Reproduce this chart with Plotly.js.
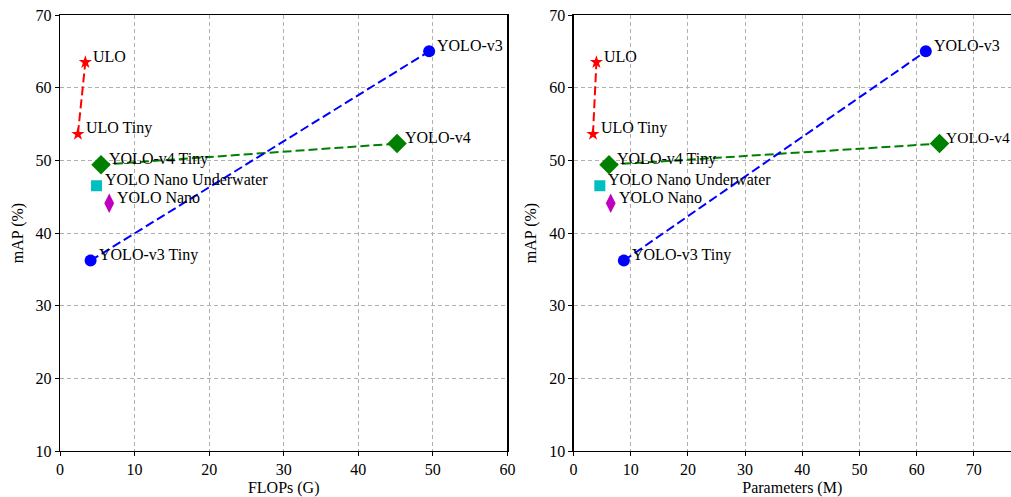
<!DOCTYPE html>
<html><head><meta charset="utf-8">
<script src="https://cdn.plot.ly/plotly-3.0.1.min.js"></script>
<style>html,body{margin:0;padding:0;background:#fff}</style>
</head><body><div id="chart" style="width:1011px;height:497px"></div>
<script>
const models = ["ULO Tiny","ULO","YOLO-v4 Tiny","YOLO-v4","YOLO-v3 Tiny","YOLO-v3","YOLO Nano Underwater","YOLO Nano"];
const mAP    = [53.6, 63.5, 49.4, 52.3, 36.2, 65.0, 46.5, 44.1];
const flops  = [2.4, 3.4, 5.5, 45.2, 4.1, 49.5, 4.9, 6.6];
const params = [3.4, 4.0, 6.2, 64.0, 8.8, 61.6, 4.6, 6.5];
const xTitles = ["FLOPs (G)", "Parameters (M)"];
const yTitle = "mAP (%)";

const groups = [
  {idx:[0,1], color:"#ff0000", symbol:"star", size:10, line:true},
  {idx:[2,3], color:"#008000", symbol:"diamond", size:15, line:true},
  {idx:[4,5], color:"#0000ff", symbol:"circle", size:12, line:true},
  {idx:[6], color:"#00bfbf", symbol:"square", size:11, line:false},
  {idx:[7], color:"#bf00bf", symbol:"diamond-tall", size:14, line:false}
];

const FONT = "'Liberation Serif', 'Times New Roman', serif";
const traces = [];
const annotations = [];
const xs = [flops, params];
xs.forEach((xv, k) => {
  const xa = k === 0 ? "x" : "x2";
  const ya = k === 0 ? "y" : "y2";
  groups.forEach(g => {
    traces.push({
      x: g.idx.map(i => xv[i]), y: g.idx.map(i => mAP[i]),
      xaxis: xa, yaxis: ya, type: "scatter",
      mode: g.line ? "lines+markers" : "markers",
      line: {color: g.color, width: 2, dash: "9px,4px"},
      marker: {color: g.color, symbol: g.symbol, size: g.size, line:{width:0}},
      showlegend: false, hoverinfo: "skip"
    });
  });
  models.forEach((m, i) => {
    // keep the far-right label inside the page edge
    const nearEdge = (k === 1 && xv[i] > 63);
    annotations.push({
      x: xv[i], y: mAP[i], xref: xa, yref: ya, text: m, showarrow: false,
      xanchor: "left", yanchor: "middle", xshift: nearEdge ? 5 : 7, yshift: 6, borderpad: 0,
      font: {family: FONT, size: nearEdge ? 15.5 : 16, color: "#000"}
    });
  });
});

const axisCommon = {
  showline: true, mirror: true, linecolor: "#000", linewidth: 1.2,
  ticks: "outside", ticklen: 4, tickcolor: "#000", tickwidth: 1,
  showgrid: true, gridcolor: "#b0b0b0", gridwidth: 1, griddash: "4px,3px",
  zeroline: false,
  tickfont: {family: FONT, size: 16, color: "#000"}
};
const titleFont = {family: FONT, size: 16, color: "#000"};

const layout = {
  width: 1011, height: 497,
  margin: {l: 60, r: 0, t: 15, b: 46},
  paper_bgcolor: "#fff", plot_bgcolor: "#fff",
  showlegend: false,
  xaxis: Object.assign({}, axisCommon, {domain: [0, 0.4705], range: [0, 60], dtick: 10, tick0: 0,
    title: {text: xTitles[0], font: titleFont, standoff: 4}, anchor: "y"}),
  yaxis: Object.assign({}, axisCommon, {domain: [0, 1], range: [10, 70], dtick: 10, tick0: 10,
    title: {text: yTitle, font: titleFont, standoff: 8}, anchor: "x"}),
  xaxis2: Object.assign({}, axisCommon, {domain: [0.54, 1], range: [0, 76.5], dtick: 10, tick0: 0,
    title: {text: xTitles[1], font: titleFont, standoff: 4}, anchor: "y2"}),
  yaxis2: Object.assign({}, axisCommon, {domain: [0, 1], range: [10, 70], dtick: 10, tick0: 10,
    title: {text: yTitle, font: titleFont, standoff: 8}, anchor: "x2"}),
  annotations: annotations
};

Plotly.newPlot("chart", traces, layout, {displayModeBar: false, staticPlot: true});
</script>
</body></html>
